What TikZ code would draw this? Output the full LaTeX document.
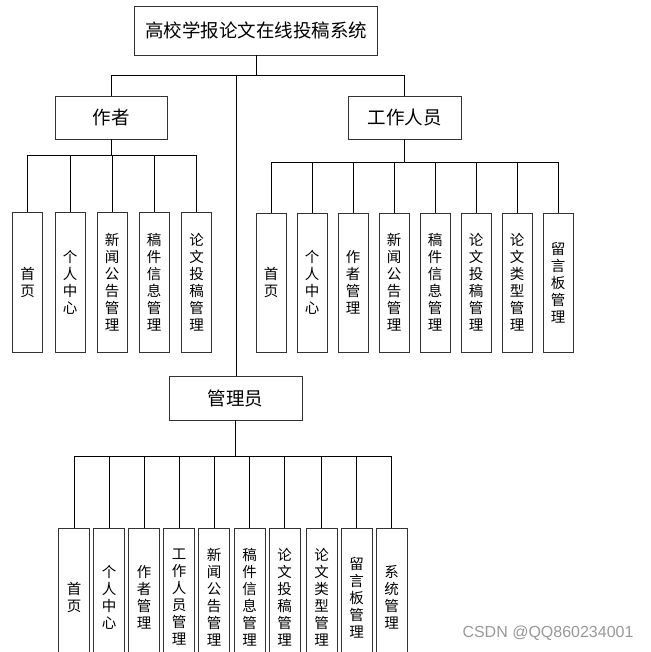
\documentclass[tikz,border=0pt]{standalone}
\usepackage{fontspec}
\setmainfont{Noto Sans CJK SC}
\newfontfamily\wmfont{Liberation Sans}
\begin{document}
\begin{tikzpicture}[x=1pt,y=-1pt,
  head/.style={draw=black!80, line width=0.9pt, inner sep=0pt, font=\fontsize{18.5}{21}\selectfont},
  leaf/.style={draw=black!80, line width=0.9pt, inner sep=0pt, align=center,
    font=\fontsize{14.5}{17}\selectfont, minimum width=30pt, minimum height=140pt},
  conn/.style={line width=0.8pt, black}]
\useasboundingbox (0,0) rectangle (650,652);
\clip (0,0) rectangle (650,652);
\fill[white] (0,0) rectangle (650,652);

% headers
\node[head, minimum width=243pt, minimum height=49pt] (top) at (256,30.5) {高校学报论文在线投稿系统};
\node[head, minimum width=112pt, minimum height=43pt] (author) at (111,117.5) {作者};
\node[head, minimum width=113pt, minimum height=43pt] (staff) at (404.5,117.5) {工作人员};
\node[head, minimum width=133pt, minimum height=44pt] (admin) at (235.5,398) {管理员};

% author leaves
\node[leaf] (a1) at (27.5,282.5) {首\\页};
\node[leaf] (a2) at (70,282.5) {个\\人\\中\\心};
\node[leaf] (a3) at (112,282.5) {新\\闻\\公\\告\\管\\理};
\node[leaf] (a4) at (154,282.5) {稿\\件\\信\\息\\管\\理};
\node[leaf] (a5) at (196.5,282.5) {论\\文\\投\\稿\\管\\理};

% staff leaves
\node[leaf, minimum height=139pt] (s1) at (271,282.5) {首\\页};
\node[leaf, minimum height=139pt] (s2) at (312,282.5) {个\\人\\中\\心};
\node[leaf, minimum height=139pt] (s3) at (353,282.5) {作\\者\\管\\理};
\node[leaf, minimum height=139pt] (s4) at (394,282.5) {新\\闻\\公\\告\\管\\理};
\node[leaf, minimum height=139pt] (s5) at (435,282.5) {稿\\件\\信\\息\\管\\理};
\node[leaf, minimum height=139pt] (s6) at (476,282.5) {论\\文\\投\\稿\\管\\理};
\node[leaf, minimum height=139pt] (s7) at (517,282.5) {论\\文\\类\\型\\管\\理};
\node[leaf, minimum height=139pt] (s8) at (558,282.5) {留\\言\\板\\管\\理};

% admin leaves
\node[leaf, minimum height=139pt, minimum width=31pt] (m1) at (74,597.5) {首\\页};
\node[leaf, minimum height=139pt, minimum width=31pt] (m2) at (109,597.5) {个\\人\\中\\心};
\node[leaf, minimum height=139pt, minimum width=31pt] (m3) at (144,597.5) {作\\者\\管\\理};
\node[leaf, minimum height=139pt, minimum width=31pt] (m4) at (179,597.5) {工\\作\\人\\员\\管\\理};
\node[leaf, minimum height=139pt, minimum width=31pt] (m5) at (214,597.5) {新\\闻\\公\\告\\管\\理};
\node[leaf, minimum height=139pt, minimum width=31pt] (m6) at (249.5,597.5) {稿\\件\\信\\息\\管\\理};
\node[leaf, minimum height=139pt, minimum width=31pt] (m7) at (284.5,597.5) {论\\文\\投\\稿\\管\\理};
\node[leaf, minimum height=139pt, minimum width=31pt] (m8) at (321.5,597.5) {论\\文\\类\\型\\管\\理};
\node[leaf, minimum height=139pt, minimum width=31pt] (m9) at (356.5,597.5) {留\\言\\板\\管\\理};
\node[leaf, minimum height=139pt, minimum width=31pt] (m10) at (391.5,597.5) {系\\统\\管\\理};

% bus coordinates
\coordinate (tbus) at (0,75);
\coordinate (abus) at (0,155);
\coordinate (sbus) at (0,162);
\coordinate (mbus) at (0,456);
\coordinate (mid) at (236,75);

% top level
\draw[conn] (top.south) -- (top.south |- tbus) -| (author.north);
\draw[conn] (top.south) -- (top.south |- tbus) -| (staff.north);
\draw[conn] (mid) -- (mid |- admin.north);

% author
\foreach \i in {1,...,5}
  \draw[conn] (author.south) -- (author.south |- abus) -| (a\i.north);
% staff
\foreach \i in {1,...,8}
  \draw[conn] (staff.south) -- (staff.south |- sbus) -| (s\i.north);
% admin
\foreach \i in {1,...,10}
  \draw[conn] (admin.south) -- (admin.south |- mbus) -| (m\i.north);

\node[text=black!40, font=\wmfont\fontsize{16}{18}\selectfont, inner sep=0pt] (wm) at (548,633) {CSDN @QQ860234001};
\end{tikzpicture}
\end{document}
